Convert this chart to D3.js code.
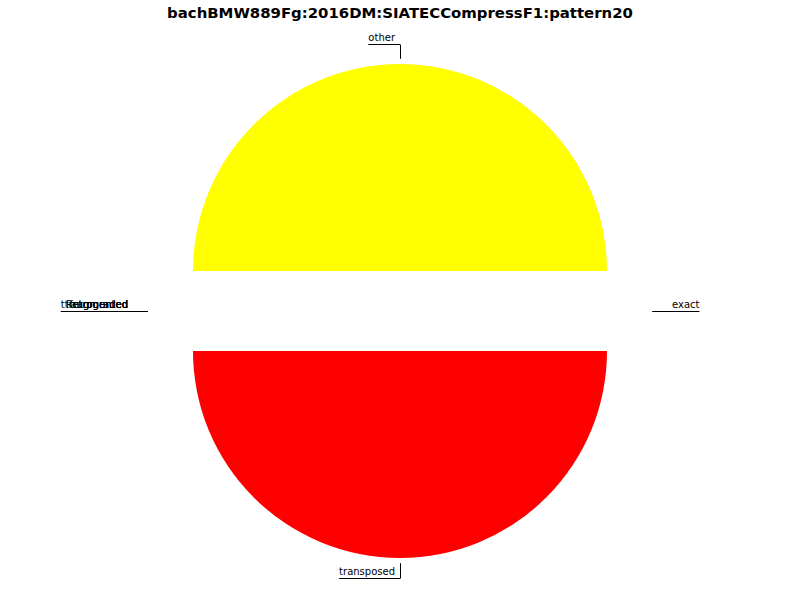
<!DOCTYPE html>
<html>
<head>
<meta charset="utf-8">
<script src="https://cdn.jsdelivr.net/npm/d3@7"></script>
<style>
  body { margin: 0; background: #fff; }
  text { font-family: "DejaVu Sans", sans-serif; }
</style>
</head>
<body>
<svg id="chart" width="800" height="600"></svg>
<script>
// pattern categories, in pie order (counterclockwise from 3 o'clock)
const labels = ["exact", "other", "ttretrograded", "Retrograded", "augmented", "fragmented", "transposed"];
const values = [0, 1, 0, 0, 0, 0, 1];
const colors = ["#1f77b4", "#ffff00", "#2ca02c", "#d62728", "#9467bd", "#8c564b", "#ff0000"];
const title = "bachBMW889Fg:2016DM:SIATECCompressF1:pattern20";

const svg = d3.select("#chart"),
  cx = 400,
  cy = 311,
  radius = 207,
  explode = 40;

const data = labels.map((l, i) => ({ label: l, value: values[i], color: colors[i] }));

// d3 angles run clockwise from 12 o'clock; go counterclockwise from 3 o'clock
const pie = d3
  .pie()
  .sort(null)
  .value((d) => d.value)
  .startAngle(Math.PI / 2)
  .endAngle(Math.PI / 2 - 2 * Math.PI);

const arc = d3.arc().innerRadius(0).outerRadius(radius);
const arcs = pie(data);

arcs.forEach((a) => {
  const m = (a.startAngle + a.endAngle) / 2;
  a.dx = Math.sin(m);
  a.dy = -Math.cos(m);
  if (Math.abs(a.dx) < 1e-9) a.dx = 0;
  if (Math.abs(a.dy) < 1e-9) a.dy = 0;
});

svg
  .append("g")
  .selectAll("path")
  .data(arcs.filter((a) => a.value > 0))
  .join("path")
  .attr("transform", (a) => `translate(${cx + explode * a.dx},${cy + explode * a.dy})`)
  .attr("d", arc)
  .attr("fill", (a) => a.data.color);

// labels with elbow connectors
const lab = svg.append("g");
arcs.forEach((a) => {
  const px = cx + (explode + radius * 1.025) * a.dx,
    py = cy + (explode + radius * 1.025) * a.dy;
  let elbowY, tx, anchor;
  if (a.dx === 0) {
    elbowY = cy + radius * 1.29 * a.dy;
    tx = px - 5;
    anchor = "end";
  } else {
    elbowY = py;
    tx = cx + radius * 1.314 * Math.sign(a.dx);
    anchor = a.dx > 0 ? "start" : "end";
  }
  const t = lab
    .append("text")
    .attr("x", tx)
    .attr("y", elbowY - 3)
    .attr("text-anchor", anchor)
    .attr("font-size", "10px")
    .attr("fill", "#000")
    .text(a.data.label);
  const w = t.node().getComputedTextLength();
  const left = anchor === "end" ? tx - w : tx,
    right = anchor === "end" ? tx : tx + w;
  const x0 = Math.min(left, px),
    x1 = Math.max(right, px);
  lab
    .append("path")
    .attr("d", `M${x0},${Math.round(elbowY) + 0.5}H${x1}` +
      (a.dx === 0 ? `M${Math.round(px) + 0.5},${Math.round(elbowY) + 0.5}V${py}` : ""))
    .attr("fill", "none")
    .attr("stroke", "#000")
    .attr("stroke-width", 1);
});

svg
  .append("text")
  .attr("x", 400)
  .attr("y", 18)
  .attr("text-anchor", "middle")
  .attr("font-size", "14.9px")
  .attr("font-weight", "bold")
  .text(title);
</script>
</body>
</html>
